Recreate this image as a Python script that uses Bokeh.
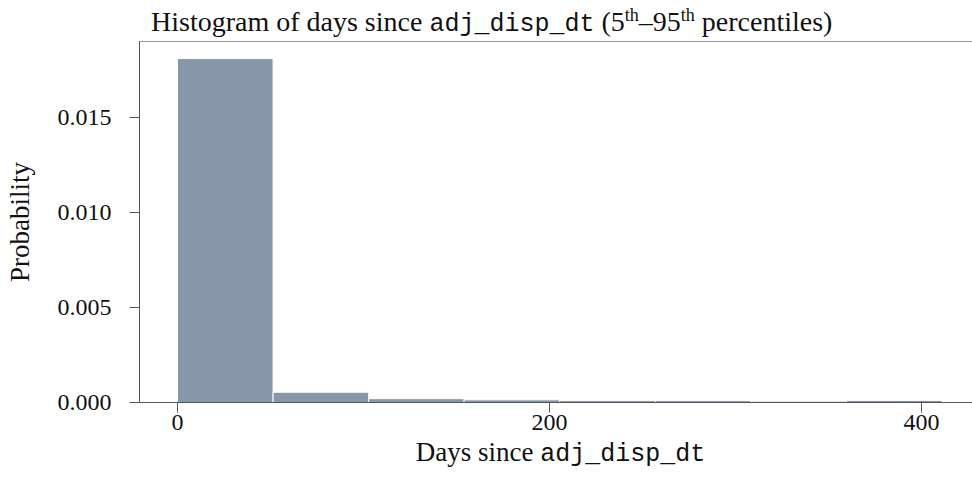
from bokeh.plotting import figure
from bokeh.models import Div, Span, Range1d, FixedTicker, NumeralTickFormatter, ColumnDataSource
from bokeh.layouts import column
from bokeh.embed import file_html
from bokeh.resources import INLINE

# histogram data (density per bin)
bin_left = [0.0, 51.4, 102.8, 154.1, 205.5, 256.9, 308.3, 359.6]
bin_right = [51.4, 102.8, 154.1, 205.5, 256.9, 308.3, 359.6, 411.0]
density = [0.0181, 0.00054, 0.00020, 0.00014, 0.00010, 0.00010, 0.00007, 0.00011]

x_ticks = [0, 200, 400]
y_ticks = [0.0, 0.005, 0.010, 0.015]

SERIF = "'Liberation Serif', 'DejaVu Serif', serif"
MONO = "'Liberation Mono', 'DejaVu Sans Mono', monospace"

title = Div(
    text=(f'<div style="font-family:{SERIF};font-size:28px;color:#111;'
          f'padding-left:146px;padding-top:2px;white-space:nowrap;line-height:29px">'
          f'Histogram of days since <span style="font-family:{MONO};font-size:25px">adj_disp_dt</span> '
          f'(5<sup style="font-size:18px;line-height:0">th</sup>&ndash;95<sup style="font-size:18px;line-height:0">th</sup> percentiles)</div>'),
    width=972, height=31)

src = ColumnDataSource(dict(left=bin_left, right=bin_right, top=density))

p = figure(frame_width=833, frame_height=361, min_border_left=139, min_border_right=0,
           min_border_top=0, min_border_bottom=44,
           x_range=Range1d(-20.4, 427.4), y_range=Range1d(0, 0.019),
           output_backend="svg", toolbar_location=None)
p.quad(left="left", right="right", bottom=0, top="top", source=src,
       fill_color="#8796a9", line_color="white", line_width=1)

p.outline_line_color = None
p.xgrid.visible = False
p.ygrid.visible = False
p.background_fill_color = "white"
p.border_fill_color = "white"

p.add_layout(Span(location=p.y_range.end, dimension="width", line_color="#333333", line_width=1))

for ax in (p.xaxis[0], p.yaxis[0]):
    ax.axis_line_color = "#555555"
    ax.major_tick_line_color = "#555555"
    ax.minor_tick_line_color = None
    ax.major_tick_out = 10
    ax.major_tick_in = 0
    ax.major_label_text_font = "Liberation Serif"
    ax.major_label_text_font_size = "24px"
    ax.major_label_text_color = "#111111"

p.xaxis.ticker = FixedTicker(ticks=x_ticks)
p.yaxis.ticker = FixedTicker(ticks=y_ticks)
p.yaxis.formatter = NumeralTickFormatter(format="0.000")
p.xaxis.major_label_standoff = 2
p.yaxis.major_label_standoff = 18

p.yaxis.axis_label = "Probability"
p.yaxis.axis_label_text_font = "Liberation Serif"
p.yaxis.axis_label_text_font_size = "27px"
p.yaxis.axis_label_text_font_style = "normal"
p.yaxis.axis_label_text_color = "#111111"
p.yaxis.axis_label_standoff = 20

xlabel = Div(
    text=(f'<div style="font-family:{SERIF};font-size:27px;color:#111;position:relative;top:-18px;'
          f'margin-left:139px;width:833px;text-align:center;white-space:nowrap">'
          f'Days since <span style="font-family:{MONO};font-size:25px">adj_disp_dt</span></div>'),
    width=972, height=36)

layout = column(title, p, xlabel, spacing=0)

open("out.html", "w").write(file_html(layout, INLINE))
